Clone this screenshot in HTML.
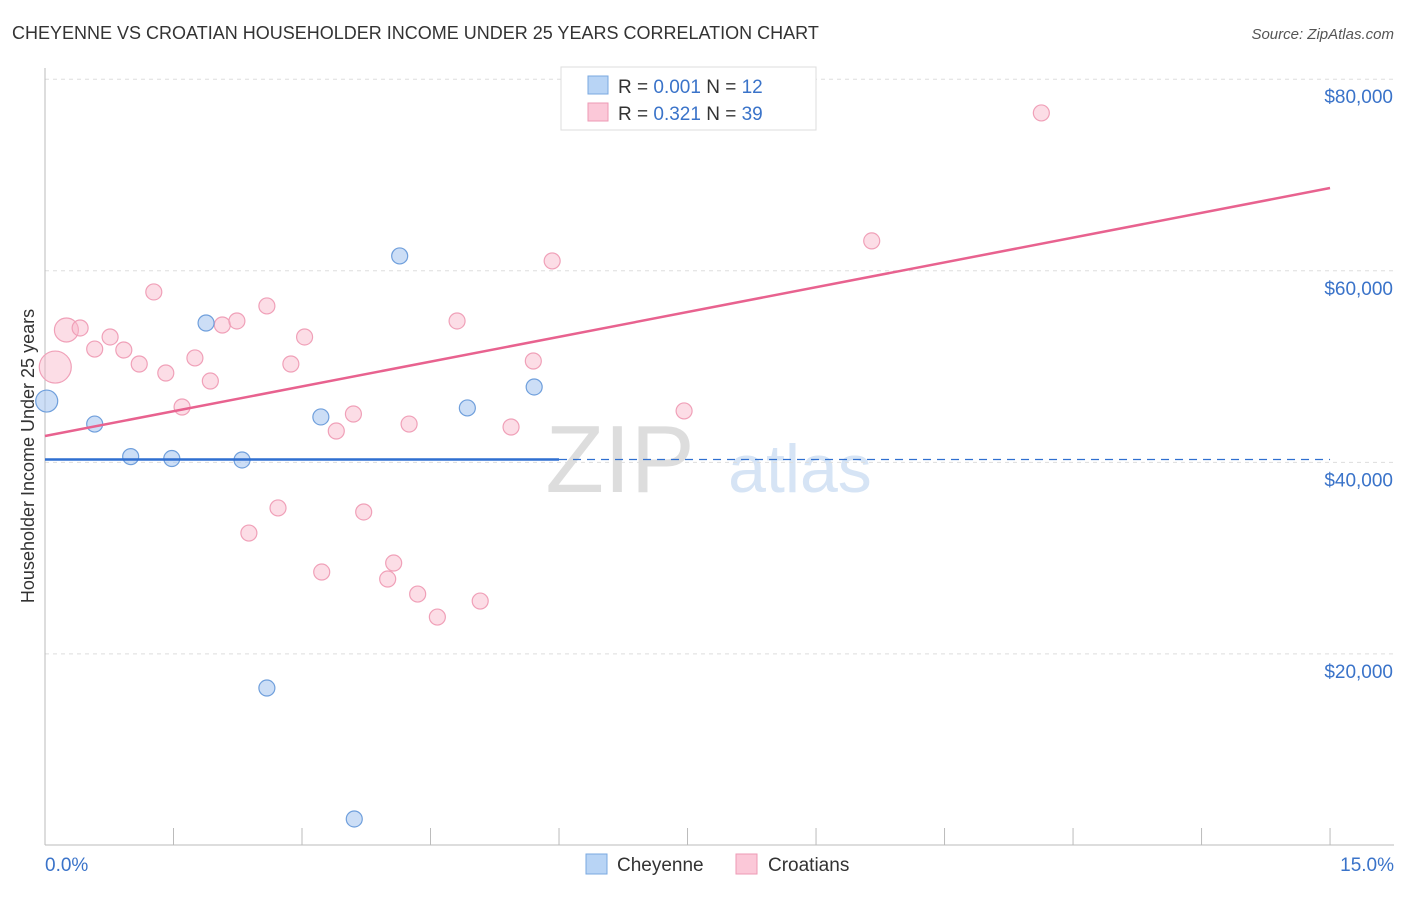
<!DOCTYPE html>
<html><head><meta charset="utf-8"><style>
body{margin:0;background:#fff;font-family:"Liberation Sans",sans-serif;}
svg text{font-family:"Liberation Sans",sans-serif;}
</style></head><body>
<svg id="c" width="1406" height="892">
<text x="12" y="39" font-size="18" fill="#333">CHEYENNE VS CROATIAN HOUSEHOLDER INCOME UNDER 25 YEARS CORRELATION CHART</text>
<text x="1394" y="39" font-size="15" fill="#555" font-style="italic" text-anchor="end">Source: ZipAtlas.com</text>
<text x="620" y="492" font-size="96" fill="#ddd" font-family="Liberation Serif" text-anchor="middle">ZIP</text>
<text x="800" y="492" font-size="68" fill="#d6e4f5" text-anchor="middle">atlas</text>
<text transform="translate(34,456) rotate(-90)" font-size="18" fill="#333" text-anchor="middle">Householder Income Under 25 years</text>
<g id="grid"></g><g id="marks"></g>
<g>
<rect x="561" y="67" width="255" height="63" fill="#fff" stroke="#ddd"/>
<rect x="588" y="76" width="20" height="18" fill="#b8d4f5" stroke="#7aa8e0"/>
<rect x="588" y="103" width="20" height="18" fill="#fbc8d8" stroke="#ee9ab5"/>
<text x="618" y="93" font-size="19" fill="#333">R = <tspan fill="#3a73c9">0.001</tspan>   N =  <tspan fill="#3a73c9">12</tspan></text>
<text x="618" y="120" font-size="19" fill="#333">R =  <tspan fill="#3a73c9">0.321</tspan>   N = <tspan fill="#3a73c9">39</tspan></text>
</g>
<g>
<rect x="586" y="854" width="21" height="20" fill="#b8d4f5" stroke="#7aa8e0"/>
<text x="617" y="871" font-size="19" fill="#333">Cheyenne</text>
<rect x="736" y="854" width="21" height="20" fill="#fbc8d8" stroke="#ee9ab5"/>
<text x="768" y="871" font-size="19" fill="#333">Croatians</text>
</g>
</svg>
<script>
const yTicks=[20000,40000,60000,80000];
const yTickLabels=["$20,000","$40,000","$60,000","$80,000"];
const xTickLabels=["0.0%","15.0%"];
const cheyX=[0.02,0.58,1.00,1.48,1.88,2.30,2.59,3.22,3.61,4.14,4.93,5.71];
const cheyY=[46400,44000,40600,40400,54550,40250,16440,44740,2770,61550,45680,47870];
const croX=[0.12,0.25,0.41,0.58,0.76,0.92,1.10,1.27,1.41,1.60,1.75,1.93,2.07,2.24,2.38,2.59,2.72,2.87,3.03,3.23,3.40,3.60,3.72,4.00,4.07,4.25,4.35,4.58,4.81,5.08,5.44,5.70,5.92,6.96,7.46,9.65,11.63];
const croY=[49950,53820,54030,51830,53090,51730,50270,57790,49330,45780,50900,48490,54340,54760,32620,56330,35240,50270,53090,28550,43270,45050,34820,27820,29490,44000,26250,23850,54760,25520,43690,50580,61030,78360,45370,63120,76480];
const croTrend=[42750,68640];
const cheyTrend=[40300,40300];
const X=p=>45+p*85.67, Y=v=>845.5-v/104.4;
const NS="http://www.w3.org/2000/svg";
function mk(t,a,parent){const e=document.createElementNS(NS,t);for(const k in a)e.setAttribute(k,a[k]);document.getElementById(parent).appendChild(e);return e;}
yTicks.forEach((v,i)=>{
 const l=mk('line',{x1:45,x2:1394,y1:Y(v),y2:Y(v),stroke:'#ddd','stroke-dasharray':'4,4'},'grid');
 
 
 const t=mk('text',{x:1393,y:Y(v)+24,'font-size':19,fill:'#3a73c9','text-anchor':'end'},'grid');t.textContent=yTickLabels[i];
 
 
});
const ax=mk('line',{x1:45,x2:1394,y1:845,y2:845,stroke:'#bbb'},'grid');


const ay=mk('line',{x1:45,x2:45,y1:68,y2:845,stroke:'#bbb'},'grid');


for(let i=1;i<=10;i++){const t=mk('line',{x1:X(i*1.5),x2:X(i*1.5),y1:828,y2:845,stroke:'#bbb'},'grid');
 
 }
[[xTickLabels[0],45,'start'],[xTickLabels[1],1394,'end']].forEach(([s,x,a])=>{const t=mk('text',{x:x,y:871,'font-size':19,fill:'#3a73c9','text-anchor':a},'grid');t.textContent=s;
 
 });
croX.forEach((x,i)=>{const r=i==0?16:(i==1?12:8);const c=mk('circle',{cx:X(x),cy:Y(croY[i]),r:r,fill:'rgba(248,180,200,0.45)',stroke:'#f0a0b8','stroke-width':1.2},'marks');
 
 });
cheyX.forEach((x,i)=>{const r=i==0?11:8;const c=mk('circle',{cx:X(x),cy:Y(cheyY[i]),r:r,fill:'rgba(170,200,240,0.6)',stroke:'#6f9fdc','stroke-width':1.2},'marks');
 
 });
const pl=mk('line',{x1:X(0),x2:X(15),y1:Y(croTrend[0]),y2:Y(croTrend[1]),stroke:'#e8628f','stroke-width':2.5},'marks');


const bl=mk('line',{x1:X(0),x2:X(6),y1:Y(cheyTrend[0]),y2:Y(cheyTrend[0]),stroke:'#2f6fd0','stroke-width':2.5},'marks');


const bd=mk('line',{x1:X(6),x2:X(15),y1:Y(cheyTrend[0]),y2:Y(cheyTrend[1]),stroke:'#2f6fd0','stroke-width':1.2,'stroke-dasharray':'8,6'},'marks');


</script>
</body></html>
